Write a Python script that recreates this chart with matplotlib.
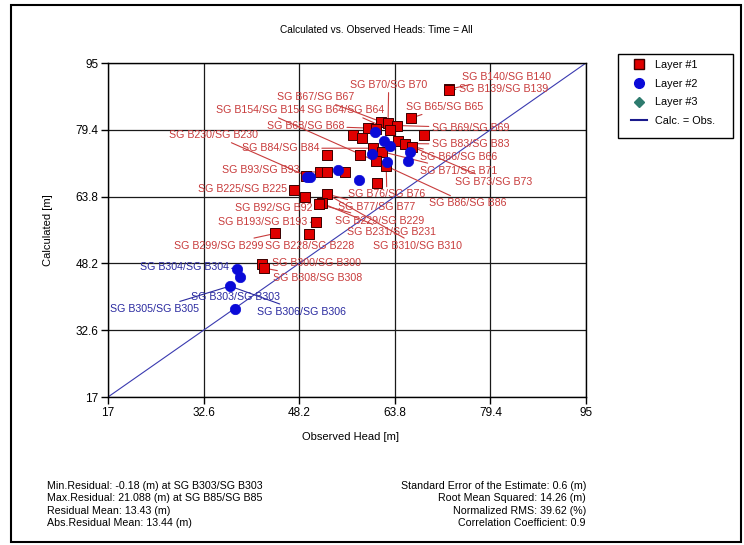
import matplotlib
matplotlib.use("Agg")
import matplotlib.pyplot as plt
from matplotlib.lines import Line2D
from matplotlib.patches import Rectangle

plt.rcParams['font.family'] = ['Liberation Sans', 'DejaVu Sans']

# ---- data (observed vs calculated heads, m) ----
ticks = [17, 32.6, 48.2, 63.8, 79.4, 95]
tick_labels = ["17", "32.6", "48.2", "63.8", "79.4", "95"]

layer1_obs = [72.7, 72.6, 66.4, 68.5, 61.5, 62.7, 64.1, 59.5, 60.8, 63.0, 57.0, 58.4,
              64.4, 65.5, 66.6, 60.3, 61.7, 58.2, 52.7, 60.8, 62.4, 55.7, 51.6, 52.8,
              49.3, 60.9, 47.4, 49.1, 52.7, 52.0, 51.5, 51.0, 44.3, 49.8, 42.2, 42.5]
layer1_calc = [88.9, 88.8, 82.1, 78.2, 81.3, 80.9, 80.4, 79.8, 79.6, 79.4, 78.2, 77.4,
               76.8, 76.2, 75.5, 75.1, 74.3, 73.4, 73.4, 72.0, 70.9, 69.5, 69.5, 69.5,
               68.7, 66.9, 65.3, 63.6, 64.4, 62.2, 62.0, 57.8, 55.2, 55.0, 48.1, 47.1]

layer2_obs = [60.5, 62.0, 63.0, 60.0, 66.3, 66.0, 62.5, 54.5, 50.0, 49.4, 58.0,
              38.1, 38.5, 36.9, 37.8]
layer2_calc = [78.8, 76.7, 75.6, 73.8, 74.1, 72.2, 71.8, 70.0, 68.4, 68.4, 67.6,
               47.0, 45.0, 42.9, 37.5]

# labelled wells: name, index of point in layer arrays
layer1_names = ["B140", "B139", "B70", "B67", "B65", "B154", "B64", "B68", "B69", "B230",
                "B83", "B84", "B66", "B93", "B71", "B73", "B225", "B76", "B86", "B92",
                "B77", "B229", "B193", "B231", "B299", "B228", "B310", "B300", "B308"]
layer1_idx = [0, 1, 5, 4, 2, 19, 9, 7, 6, 24, 13, 15, 14, 22, 16, 12, 26, 20, 19, 29,
              28, 30, 31, 29, 32, 33, 28, 34, 35]
layer2_names = ["B304", "B303", "B305", "B306"]
layer2_idx = [11, 14, 13, 13]

stats_left = ["Min.Residual: -0.18 (m) at SG B303/SG B303",
              "Max.Residual: 21.088 (m) at SG B85/SG B85",
              "Residual Mean: 13.43 (m)",
              "Abs.Residual Mean: 13.44 (m)"]
stats_right = ["Standard Error of the Estimate: 0.6 (m)",
               "Root Mean Squared: 14.26 (m)",
               "Normalized RMS: 39.62 (%)",
               "Correlation Coefficient: 0.9"]

# label placement (layout only)
layer1_txt = [(74.7, 91.8), (74.2, 88.9), (56.5, 89.9), (44.5, 87.1), (65.7, 84.8),
              (34.7, 84.0), (49.4, 84.0), (42.9, 80.3), (69.8, 79.9), (27.0, 78.2),
              (69.8, 76.0), (38.8, 75.1), (67.9, 73.1), (35.6, 70.0), (67.9, 69.8),
              (73.6, 67.3), (31.7, 65.5), (56.2, 64.3), (69.3, 62.2), (37.7, 61.2),
              (54.6, 61.3), (54.0, 58.2), (35.0, 57.8), (56.0, 55.5), (27.7, 52.3),
              (42.6, 52.3), (60.3, 52.3), (43.7, 48.2), (44.0, 44.7)]
layer2_txt = [(22.2, 47.4), (30.5, 40.4), (17.3, 37.5), (41.3, 36.9)]

W, H = 744, 545
fig = plt.figure(figsize=(W / 100, H / 100), dpi=100)
ax = fig.add_axes([108 / W, 1 - 397 / H, (586 - 108) / W, (397 - 63) / H])

red = "#e00000"
blue = "#0a0ad8"
red_lbl = "#c83c3c"
blue_lbl = "#2a2aa0"

ax.set_xlim(17, 95)
ax.set_ylim(17, 95)
ax.set_xticks(ticks)
ax.set_yticks(ticks)
ax.set_xticklabels(tick_labels)
ax.set_yticklabels(tick_labels)
ax.tick_params(labelsize=8.5, length=5, width=1, colors="black", pad=2)
ax.grid(True, color="#1a1a1a", lw=0.9)
ax.set_axisbelow(True)
for s in ax.spines.values():
    s.set_linewidth(1)

ax.plot([17, 95], [17, 95], color="#3a3ab0", lw=0.8, zorder=2)

for name, i, (tx, ty) in zip(layer1_names, layer1_idx, layer1_txt):
    ax.annotate("SG %s/SG %s" % (name, name), xy=(layer1_obs[i], layer1_calc[i]),
                xytext=(tx, ty), ha="left", va="center", fontsize=7.7, color=red_lbl,
                arrowprops=dict(arrowstyle="-", color=red_lbl, lw=0.8, shrinkA=0, shrinkB=0),
                annotation_clip=False, zorder=2.5)
for name, i, (tx, ty) in zip(layer2_names, layer2_idx, layer2_txt):
    ax.annotate("SG %s/SG %s" % (name, name), xy=(layer2_obs[i], layer2_calc[i]),
                xytext=(tx, ty), ha="left", va="center", fontsize=7.7, color=blue_lbl,
                arrowprops=dict(arrowstyle="-", color=blue_lbl, lw=0.8, shrinkA=0, shrinkB=0),
                annotation_clip=False, zorder=2.5)

ax.scatter(layer1_obs, layer1_calc, marker="s", s=50, c=red, edgecolors="#3a0000",
           linewidths=0.7, zorder=3)
ax.scatter(layer2_obs, layer2_calc, marker="o", s=56, c=blue, edgecolors=blue,
           linewidths=0.5, zorder=3)

ax.set_xlabel("Observed Head [m]", fontsize=8)
ax.set_ylabel("Calculated [m]", fontsize=8)
ax.xaxis.set_label_coords((350 - 108) / (586 - 108), -(432 - 397) / (397 - 63))
ax.yaxis.set_label_coords(-(108 - 53) / (586 - 108), (397 - 230) / (397 - 63))

fig.text(376 / W, 1 - 30 / H, "Calculated vs. Observed Heads: Time = All",
         ha="center", va="center", fontsize=7.3)

handles = [
    Line2D([], [], marker="s", ls="none", color=red, mec="#3a0000", ms=7),
    Line2D([], [], marker="o", ls="none", color=blue, ms=7),
    Line2D([], [], marker="D", ls="none", color="#2e7b6e", ms=5.5),
    Line2D([], [], color="#1a1a8c", lw=1.5),
]
leg = fig.legend(handles, ["Layer #1", "Layer #2", "Layer #3", "Calc. = Obs."],
                 loc="upper left", bbox_to_anchor=(631 / W, 1 - 60 / H),
                 fontsize=7.8, frameon=False, borderpad=0, labelspacing=0.8,
                 handlelength=1.5, handletextpad=0.75, borderaxespad=0)
fig.patches.append(Rectangle((618 / W, 1 - 138 / H), (733 - 618) / W, (138 - 54) / H,
                             transform=fig.transFigure, fill=False, ec="black", lw=1))

for k, line in enumerate(stats_left):
    fig.text(47 / W, 1 - (486 + 12.3 * k) / H, line, ha="left", va="center", fontsize=7.7)
for k, line in enumerate(stats_right):
    fig.text(586 / W, 1 - (486 + 12.3 * k) / H, line, ha="right", va="center", fontsize=7.7)

fig.patches.append(Rectangle((11 / W, 1 - 542 / H), (741 - 11) / W, (542 - 5) / H,
                             transform=fig.transFigure, fill=False, ec="black", lw=1.5))

fig.savefig("out.png", dpi=100)
